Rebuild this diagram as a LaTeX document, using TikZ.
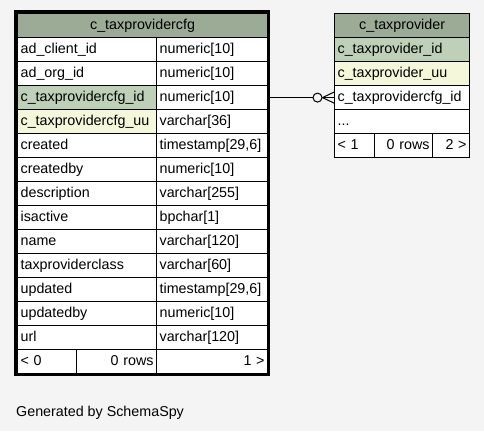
\documentclass[tikz,border=0pt]{standalone}
\usepackage{fontspec}
\setmainfont{Liberation Sans}
\usetikzlibrary{calc}
\definecolor{hdr}{HTML}{9BAB96}
\definecolor{pkc}{HTML}{BED1B8}
\definecolor{uqc}{HTML}{F4F7DA}
\definecolor{bgc}{HTML}{F4F4F4}
\tikzset{
  cell/.style={draw=black, line width=1.2pt, fill=white, anchor=north west,
    inner xsep=3pt, inner ysep=0pt, minimum height=24pt,
    text height=10.5pt, text depth=3pt, align=left,
    font=\fontsize{14.3}{17}\selectfont},
  hcell/.style={cell, fill=hdr, align=center},
  pkcell/.style={cell, fill=pkc},
  uqcell/.style={cell, fill=uqc},
  rcell/.style={cell, align=right},
  conn/.style={draw=black, line width=1pt},
}
\begin{document}
\begin{tikzpicture}[x=1pt,y=-1pt]
\path[fill=bgc] (0,0) rectangle (484,431);
\useasboundingbox (0,0) rectangle (484,431);
% ---------- left table ----------
\node[hcell, text width=244pt] (lh) at (17,13) {c\_taxprovidercfg};
\node[cell, text width=133pt] (l1n) at (17,37) {ad\_client\_id};
\node[cell, text width=105pt] (l1t) at (156,37) {numeric[10]};
\node[cell, text width=133pt] (l2n) at (17,61) {ad\_org\_id};
\node[cell, text width=105pt] (l2t) at (156,61) {numeric[10]};
\node[pkcell, text width=133pt] (l3n) at (17,85) {c\_taxprovidercfg\_id};
\node[cell, text width=105pt] (l3t) at (156,85) {numeric[10]};
\node[uqcell, text width=133pt] (l4n) at (17,109) {c\_taxprovidercfg\_uu};
\node[cell, text width=105pt] (l4t) at (156,109) {varchar[36]};
\node[cell, text width=133pt] (l5n) at (17,133) {created};
\node[cell, text width=105pt] (l5t) at (156,133) {timestamp[29,6]};
\node[cell, text width=133pt] (l6n) at (17,157) {createdby};
\node[cell, text width=105pt] (l6t) at (156,157) {numeric[10]};
\node[cell, text width=133pt] (l7n) at (17,181) {description};
\node[cell, text width=105pt] (l7t) at (156,181) {varchar[255]};
\node[cell, text width=133pt] (l8n) at (17,205) {isactive};
\node[cell, text width=105pt] (l8t) at (156,205) {bpchar[1]};
\node[cell, text width=133pt] (l9n) at (17,229) {name};
\node[cell, text width=105pt] (l9t) at (156,229) {varchar[120]};
\node[cell, text width=133pt] (l10n) at (17,253) {taxproviderclass};
\node[cell, text width=105pt] (l10t) at (156,253) {varchar[60]};
\node[cell, text width=133pt] (l11n) at (17,277) {updated};
\node[cell, text width=105pt] (l11t) at (156,277) {timestamp[29,6]};
\node[cell, text width=133pt] (l12n) at (17,301) {updatedby};
\node[cell, text width=105pt] (l12t) at (156,301) {numeric[10]};
\node[cell, text width=133pt] (l13n) at (17,325) {url};
\node[cell, text width=105pt] (l13t) at (156,325) {varchar[120]};
\node[cell, text width=53pt] (lf1) at (17,349) {< 0};
\node[rcell, text width=74pt] (lf2) at (76,349) {0 rows};
\node[rcell, text width=105pt] (lf3) at (156,349) {1 >};
\draw[line width=3pt] (15.5,11.5) rectangle (268.5,374.5);
% ---------- right table ----------
\node[hcell, text width=129pt] (rh) at (334,13) {c\_taxprovider};
\node[pkcell, text width=129pt] (r1) at (334,37) {c\_taxprovider\_id};
\node[uqcell, text width=129pt] (r2) at (334,61) {c\_taxprovider\_uu};
\node[cell, text width=129pt] (rcfg) at (334,85) {c\_taxprovidercfg\_id};
\node[cell, text width=129pt] (r4) at (334,109) {...};
\node[cell, text width=34pt] (rf1) at (334,133) {< 1};
\node[rcell, text width=52pt] (rf2) at (374,133) {0 rows};
\node[rcell, text width=31pt] (rf3) at (432,133) {2 >};
% ---------- connector ----------
\node[circle, draw=black, line width=1pt, minimum size=9pt, inner sep=0pt]
  (ring) at ($(rcfg.west)+(-16.5,0)$) {};
\draw[conn] (l3t.east) -- (ring.west);
\draw[conn] (ring.east) -- ($(rcfg.west)+(0,-5.5)$);
\draw[conn] (ring.east) -- (rcfg.west);
\draw[conn] (ring.east) -- ($(rcfg.west)+(0,5.5)$);
% ---------- caption ----------
\node[anchor=base west, inner sep=0pt, font=\fontsize{14.3}{17}\selectfont]
  (cap) at (16,416) {Generated by SchemaSpy};
\end{tikzpicture}
\end{document}
